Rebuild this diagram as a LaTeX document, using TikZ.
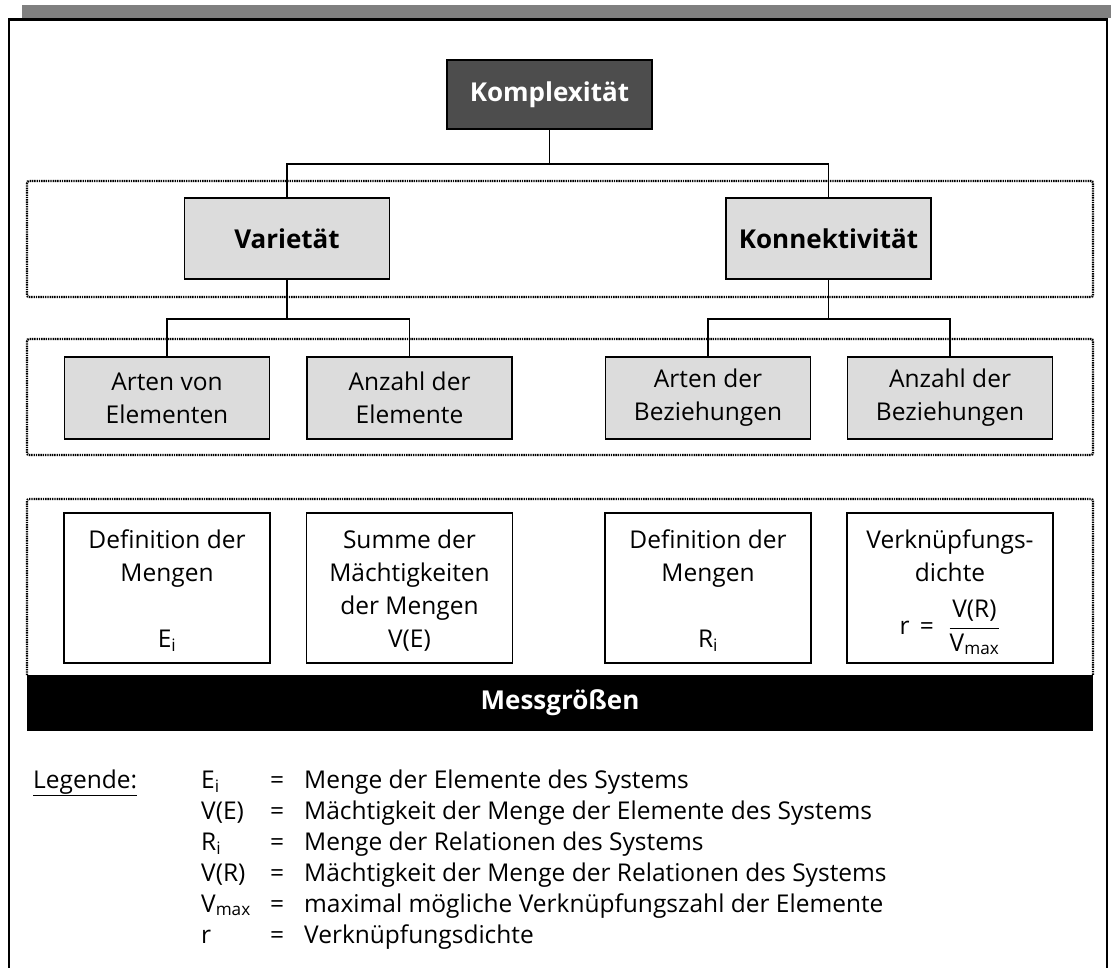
\documentclass[tikz,border=0pt]{standalone}
\usepackage{fontspec}
\setmainfont{Open Sans}
\usetikzlibrary{calc}
\definecolor{topgray}{HTML}{4D4D4D}
\definecolor{boxgray}{HTML}{DCDCDC}
\definecolor{bandgray}{HTML}{808080}
\newcommand\sbs[1]{\textsubscript{#1}}
\newcommand\fsz{\fontsize{24.5}{33}\selectfont}
\begin{document}
\begin{tikzpicture}[x=1pt,y=-1pt,
  box/.style={draw,line width=1.6pt,inner sep=0pt,align=center},
  topbox/.style={box,fill=topgray,text=white,font=\fontsize{26}{30}\selectfont\bfseries,minimum width=205pt,minimum height=69pt},
  midbox/.style={box,fill=boxgray,font=\fontsize{26}{30}\selectfont\bfseries,minimum width=205pt,minimum height=81pt},
  lowbox/.style={box,fill=boxgray,font=\fsz,minimum width=205pt,minimum height=82pt},
  measbox/.style={draw,line width=1.3pt,fill=white,inner sep=5pt,font=\fsz},
  grp/.style={line width=2.2pt,dash pattern=on 1.4pt off 0.9pt,rounded corners=2pt},
  conn/.style={line width=1.5pt},
  leg/.style={anchor=base west,inner sep=0pt,font=\fontsize{24.5}{30}\selectfont}
]
\useasboundingbox (0,0) rectangle (1111,967);
\fill[white] (0,0) rectangle (1111,967);
% shadow band and frame
\fill[bandgray] (22,5) rectangle (1111,18);
\draw[line width=2.5pt] (9,970) -- (9,19.5) -- (1107,19.5) -- (1107,970);

% group frames
\draw[grp] (27,181) rectangle (1093,297);
\draw[grp] (27,339) rectangle (1093,455);
\draw[grp] (27,675) -- (27,499) -- (1093,499) -- (1093,675);

% nodes
\node[topbox] (komp) at (549.5,94.5) {Komplexität};
\node[midbox] (var) at (287,238.5) {Varietät};
\node[midbox] (kon) at (828.5,238.5) {Konnektivität};
\node[lowbox] (ae) at (167,398) {Arten von\\Elementen};
\node[lowbox] (ze) at (409.5,398) {Anzahl der\\Elemente};
\node[lowbox] (ab) at (708,398) {Arten der\\Beziehungen};
\node[lowbox] (zb) at (950,398) {Anzahl der\\Beziehungen};

\node[measbox] (m1) at (167,588) {\parbox[c][140pt][t]{196pt}{\centering\fsz\rule{0pt}{30pt}Definition der\\Mengen\\[33pt]E\sbs{i}}};
\node[measbox] (m2) at (409.5,588) {\parbox[c][140pt][t]{196pt}{\centering\fsz\rule{0pt}{30pt}Summe der\\Mächtigkeiten\\der Mengen\\V(E)}};
\node[measbox] (m3) at (708,588) {\parbox[c][140pt][t]{196pt}{\centering\fsz\rule{0pt}{30pt}Definition der\\Mengen\\[33pt]R\sbs{i}}};
\node[measbox] (m4) at (950,588) {\parbox[c][140pt][t]{196pt}{\centering\fsz\rule{0pt}{30pt}Verknüpfungs-\\dichte}};
\node[anchor=base,inner sep=0pt,font=\fontsize{24.5}{30}\selectfont] (m4f) at (950,634)
  {r\, =\,\, $\displaystyle\frac{\mbox{V(R)}}{\mbox{V\sbs{max}}}$};

% black bar
\node[fill=black,text=white,minimum width=1066pt,minimum height=56pt,inner sep=0pt,
  font=\fontsize{26}{30}\selectfont\bfseries] (mess) at (560,703) {Messgrößen};

% connectors
\draw[conn] (komp.south) -- ++(0,34) coordinate (j0) -| (var.north);
\draw[conn] (j0) -| (kon.north);
\draw[conn] (var.south) -- ++(0,39) coordinate (j1) -| (ae.north);
\draw[conn] (j1) -| (ze.north);
\draw[conn] (kon.south) -- ++(0,39) coordinate (j2) -| (ab.north);
\draw[conn] (j2) -| (zb.north);

% legend
\node[leg] (lg) at (33,788) {\underline{Legende:}};
\node[leg] (ls0) at (201,788) {E\sbs{i}};
\node[leg] (ls1) at (201,819) {V(E)};
\node[leg] (ls2) at (201,850) {R\sbs{i}};
\node[leg] (ls3) at (201,881) {V(R)};
\node[leg] (ls4) at (201,912) {V\sbs{max}};
\node[leg] (ls5) at (201,943) {r};
\foreach \k/\yy/\txt in {0/788/Menge der Elemente des Systems,
  1/819/Mächtigkeit der Menge der Elemente des Systems,
  2/850/Menge der Relationen des Systems,
  3/881/Mächtigkeit der Menge der Relationen des Systems,
  4/912/maximal mögliche Verknüpfungszahl der Elemente,
  5/943/Verknüpfungsdichte}{
  \node[leg] (le\k) at (270,\yy) {=};
  \node[leg] (lt\k) at (304,\yy) {\txt};
}
\end{tikzpicture}
\end{document}
